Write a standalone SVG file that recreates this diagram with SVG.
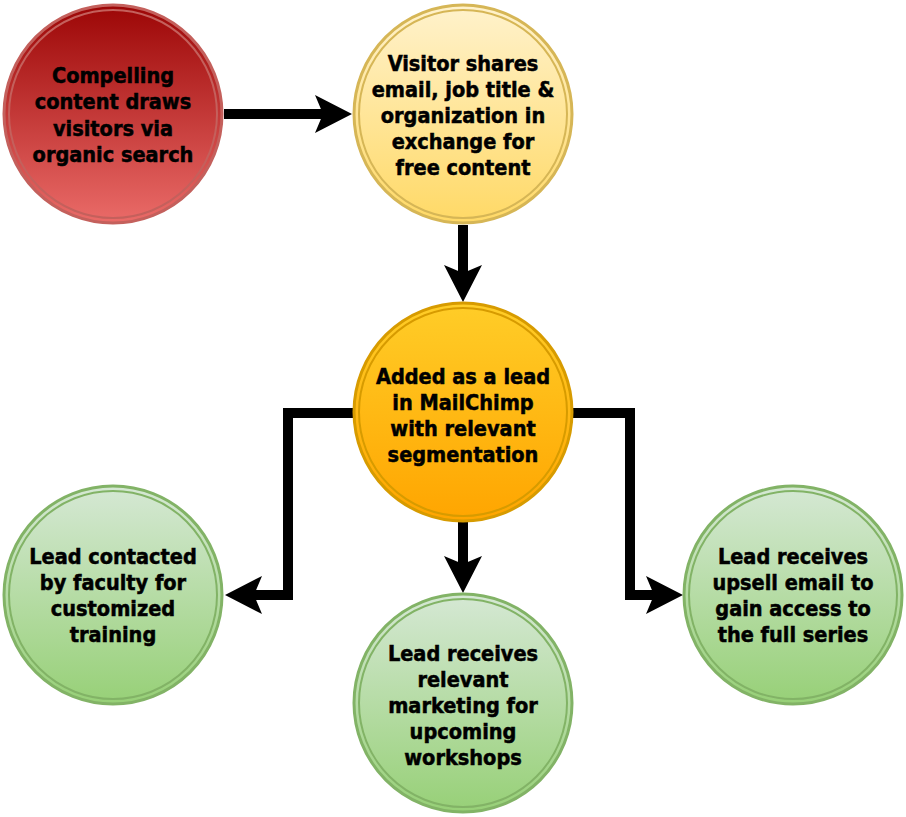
<svg xmlns="http://www.w3.org/2000/svg" width="906" height="817" viewBox="0 0 906 817">
<style>
.lbl{font-family:"DejaVu Sans Condensed","DejaVu Sans","Liberation Sans",sans-serif;font-stretch:condensed;font-weight:bold;font-size:21.5px;fill:#000;stroke:#000;stroke-width:0.5;text-anchor:middle}
.conn{fill:none;stroke:#000;stroke-width:10;marker-end:url(#ah)}
.o{stroke-width:3}
.i{fill:none;stroke-width:2}
</style>
<defs>
<linearGradient id="gRed" x1="0" y1="0" x2="0" y2="1"><stop offset="0" stop-color="#9c0606"/><stop offset="1" stop-color="#ea6b68"/></linearGradient>
<linearGradient id="gYel" x1="0" y1="0" x2="0" y2="1"><stop offset="0" stop-color="#fff2cc"/><stop offset="1" stop-color="#ffd966"/></linearGradient>
<linearGradient id="gOra" x1="0" y1="0" x2="0" y2="1"><stop offset="0" stop-color="#ffcd28"/><stop offset="1" stop-color="#ffa500"/></linearGradient>
<linearGradient id="gGrn" x1="0" y1="0" x2="0" y2="1"><stop offset="0" stop-color="#d5e8d4"/><stop offset="1" stop-color="#97d077"/></linearGradient>
<marker id="ah" markerUnits="userSpaceOnUse" markerWidth="40" markerHeight="40" refX="17" refY="19" orient="auto" overflow="visible">
<path d="M0,0 L37,19 L0,38 L8,19 Z" fill="#000"/>
</marker>
</defs>
<g id="connectors">
<path class="conn" d="M224,114 H332"/>
<path class="conn" d="M463,225 V282"/>
<path class="conn" d="M353,413 H288 V595 H245"/>
<path class="conn" d="M573,413 H630 V595 H663"/>
<path class="conn" d="M463,522 V573"/>
</g>
<g id="n1">
<circle cx="113" cy="114" r="109" fill="url(#gRed)" stroke="#c4605c" class="o"/>
<circle cx="113" cy="114" r="104" stroke="#c4605c" class="i"/>
<text class="lbl" x="113" y="83">Compelling</text>
<text class="lbl" x="113" y="109">content draws</text>
<text class="lbl" x="113" y="136">visitors via</text>
<text class="lbl" x="113" y="162">organic search</text>
</g>
<g id="n2">
<circle cx="463" cy="114" r="109" fill="url(#gYel)" stroke="#d6b656" class="o"/>
<circle cx="463" cy="114" r="104" stroke="#d6b656" class="i"/>
<text class="lbl" x="463" y="71">Visitor shares</text>
<text class="lbl" x="463" y="97">email, job title &amp;</text>
<text class="lbl" x="463" y="123">organization in</text>
<text class="lbl" x="463" y="149">exchange for</text>
<text class="lbl" x="463" y="175">free content</text>
</g>
<g id="n3">
<circle cx="463" cy="412" r="109" fill="url(#gOra)" stroke="#d79b00" class="o"/>
<circle cx="463" cy="412" r="104" stroke="#d79b00" class="i"/>
<text class="lbl" x="463" y="384">Added as a lead</text>
<text class="lbl" x="463" y="410">in MailChimp</text>
<text class="lbl" x="463" y="436">with relevant</text>
<text class="lbl" x="463" y="462">segmentation</text>
</g>
<g id="n4">
<circle cx="113" cy="595" r="109" fill="url(#gGrn)" stroke="#82b366" class="o"/>
<circle cx="113" cy="595" r="104" stroke="#82b366" class="i"/>
<text class="lbl" x="113" y="564">Lead contacted</text>
<text class="lbl" x="113" y="590">by faculty for</text>
<text class="lbl" x="113" y="616">customized</text>
<text class="lbl" x="113" y="642">training</text>
</g>
<g id="n5">
<circle cx="463" cy="703" r="109" fill="url(#gGrn)" stroke="#82b366" class="o"/>
<circle cx="463" cy="703" r="104" stroke="#82b366" class="i"/>
<text class="lbl" x="463" y="661">Lead receives</text>
<text class="lbl" x="463" y="687">relevant</text>
<text class="lbl" x="463" y="713">marketing for</text>
<text class="lbl" x="463" y="739">upcoming</text>
<text class="lbl" x="463" y="765">workshops</text>
</g>
<g id="n6">
<circle cx="793" cy="595" r="109" fill="url(#gGrn)" stroke="#82b366" class="o"/>
<circle cx="793" cy="595" r="104" stroke="#82b366" class="i"/>
<text class="lbl" x="793" y="564">Lead receives</text>
<text class="lbl" x="793" y="590">upsell email to</text>
<text class="lbl" x="793" y="616">gain access to</text>
<text class="lbl" x="793" y="642">the full series</text>
</g>
</svg>
